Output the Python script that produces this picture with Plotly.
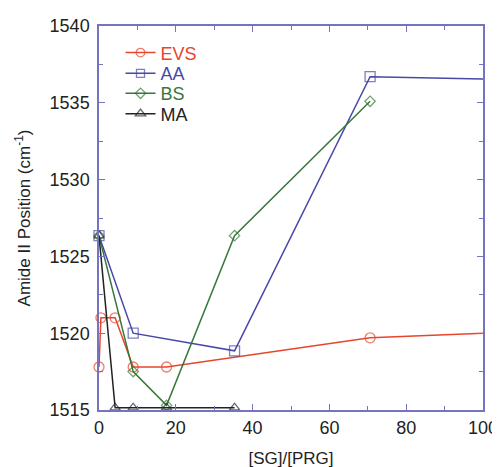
import plotly.graph_objects as go

evs_x = [0, 0.5, 4.2, 8.9, 17.6, 70.6, 100]
evs_y = [1517.8, 1521.0, 1521.0, 1517.8, 1517.8, 1519.7, 1520.0]
aa_x = [0, 8.9, 35.3, 70.6, 100]
aa_y = [1526.35, 1520.0, 1518.85, 1536.7, 1536.55]
bs_x = [0, 8.9, 17.6, 35.3, 70.6]
bs_y = [1526.35, 1517.5, 1515.3, 1526.35, 1535.1]
ma_x = [0, 4.2, 8.9, 17.6, 35.3]
ma_y = [1526.35, 1515.15, 1515.15, 1515.15, 1515.15]

FONT = "Liberation Sans, Arial"
series = [
    ("EVS", evs_x, evs_y, "#e8452c", "circle-open", [10]*6 + [0], "legend", 0.930),
    ("AA", aa_x, aa_y, "#4848a8", "square-open", [10]*4 + [0], "legend2", 0.876),
    ("BS", bs_x, bs_y, "#37783a", "diamond-open", [8]*5, "legend3", 0.824),
    ("MA", ma_x, ma_y, "#222222", "triangle-up-open", [9]*5, "legend4", 0.771),
]

fig = go.Figure()
legends = {}
for name, xs, ys, col, sym, sizes, leg, ly in series:
    fig.add_trace(go.Scatter(
        x=xs, y=ys, mode="lines+markers", name=name, legend=leg,
        line=dict(color=col, width=1.5),
        marker=dict(symbol=sym, size=sizes, color=col, line=dict(width=1.3, color=col)),
        cliponaxis=False,
    ))
    legends[leg] = dict(x=0.056, y=ly, xanchor="left", yanchor="middle",
                        font=dict(family=FONT, size=18, color=col),
                        bgcolor="rgba(0,0,0,0)", itemwidth=30)

axis_col = "#7474c0"
common = dict(showline=True, linecolor=axis_col, linewidth=1.5, mirror="ticks",
              ticks="inside", tickcolor=axis_col, ticklen=6, tickwidth=1.2,
              showgrid=False, zeroline=False, automargin=False,
              tickfont=dict(family=FONT, size=18, color="#222"))
fig.update_xaxes(range=[0, 100], dtick=20,
                 minor=dict(dtick=10, ticks="inside", ticklen=4, tickcolor=axis_col),
                 title=dict(text="[SG]/[PRG]", font=dict(family=FONT, size=17, color="#222")),
                 ticklabelstandoff=1,
                 **common)
fig.update_yaxes(range=[1515, 1540], dtick=5,
                 minor=dict(dtick=2.5, ticks="inside", ticklen=4, tickcolor=axis_col),
                 title=dict(text="Amide II Position (cm<sup>-1</sup>)", font=dict(family=FONT, size=17, color="#222")),
                 ticklabelstandoff=4,
                 **common)
fig.update_layout(
    width=500, height=467,
    margin=dict(l=91, r=25, t=18, b=65),
    plot_bgcolor="white", paper_bgcolor="white",
    showlegend=True,
    **legends,
)
fig.write_html("out.html")
